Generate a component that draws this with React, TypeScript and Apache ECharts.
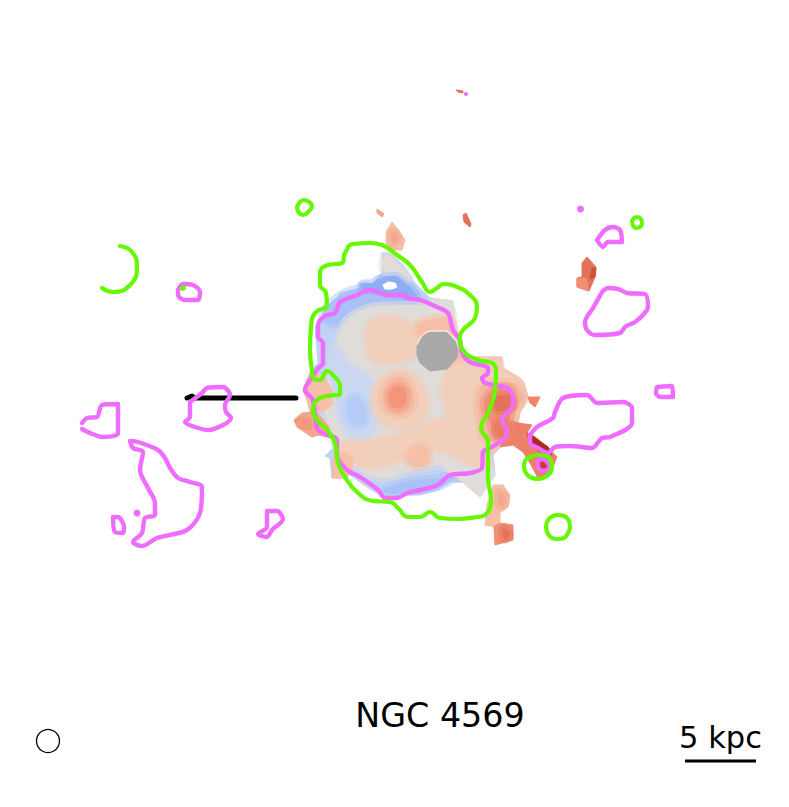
import React, { useEffect, useRef } from "react";
import * as echarts from "echarts";

type P = number[][];
const WIDTH = 789, HEIGHT = 807;
const C = {
  blueDeep: "#8fadf3", blue: "#a9c2f6", blueLight: "#c0d2f5", bluePale: "#cbd8f1", grey: "#dfdcda",
  pale: "#f2cfbb", peach: "#f6bfa8", salmon: "#f5a78e", coral: "#ef8f76", red: "#e4725a", deep: "#d2503f", dark: "#b0272b",
  mask: "#a9a9a9", white: "#ffffff",
};
const outline: P = [[382,253],[390,253],[403,265],[415,283],[430,298],[453,301],[455,323],[457,333],[460,357],[502,357],[503,368],[520,378],[524,382],[528,397],[520,412],[518,423],[505,442],[493,455],[495,475],[480,497],[463,482],[450,482],[438,490],[420,495],[407,495],[385,498],[367,487],[350,475],[343,478],[332,478],[330,458],[325,456],[333,448],[332,438],[318,435],[312,437],[297,427],[294,420],[302,413],[310,412],[307,400],[303,390],[310,372],[318,363],[315,327],[330,313],[340,293],[360,288],[360,283],[373,283],[382,273]];
const topRim: P = [[322,315],[340,295],[360,288],[372,288],[400,296],[420,298],[415,305],[380,302],[350,312],[335,325]];
const deepBlue: P = [[362,284],[373,283],[378,279],[395,276],[405,283],[414,291],[416,296],[400,296],[375,291],[362,289]];
const spurGrey: P = [[384,256],[390,256],[401,267],[410,279],[398,272],[384,271]];
const bottomBlue: P = [[383,490],[405,482],[438,478],[463,472],[468,479],[455,479],[438,487],[407,492],[390,494]];
const greyUnder: P = [[430,298],[453,301],[455,323],[457,333],[460,357],[480,400],[490,455],[495,475],[480,497],[463,482],[445,470],[430,440]];
const greyMain: P = [[345,322],[367,308],[400,305],[430,305],[450,306],[455,345],[470,400],[489,468],[480,490],[463,478],[445,466],[415,470],[380,478],[350,462],[332,440],[325,395],[335,350]];
const rightBase: P = [[460,357],[502,357],[503,368],[520,378],[524,382],[528,397],[520,412],[518,423],[505,442],[493,455],[490,440],[470,400]];
const blueBand: P = [[333,345],[350,365],[372,380],[378,410],[372,435],[355,440],[342,425],[336,400],[330,372]];
const bluePatch: P = [[347,403],[355,395],[365,405],[367,420],[358,427],[348,420]];
const paleTop: P = [[366,340],[372,322],[390,317],[412,325],[420,338],[416,355],[395,362],[375,362]];
const paleMaskTop: P = [[418,324],[436,318],[450,318],[454,335],[440,338],[420,336]];
const peachMaskRight: P = [[449,357],[458,352],[464,362],[462,376],[452,376]];
const paleRight: P = [[445,375],[462,363],[499,361],[502,370],[517,381],[521,387],[523,400],[516,412],[514,425],[503,438],[488,446],[490,466],[470,464],[445,452],[420,452],[395,462],[370,468],[350,460],[338,445],[372,440],[405,432],[430,422],[447,415],[442,395]];
const paleCenter: P = [[375,385],[390,373],[410,372],[423,385],[428,405],[420,422],[395,428],[378,418],[372,400]];
const peachCenter: P = [[383,390],[392,379],[405,378],[413,390],[414,405],[405,414],[392,414],[383,405]];
const salmonCenter: P = [[389,393],[396,386],[404,388],[407,397],[404,406],[395,408],[389,402]];
const patchLow: P = [[408,452],[418,445],[428,450],[428,463],[418,467],[408,462]];
const patchLowLeft: P = [[333,455],[345,452],[353,458],[352,472],[343,478],[332,478]];
const leftUpper: P = [[310,372],[322,375],[332,390],[332,405],[322,412],[310,412],[307,400],[303,390]];
const leftLower: P = [[302,413],[316,412],[328,425],[332,438],[318,435],[312,437],[297,427],[294,420]];
const leftLowerCore: P = [[294,420],[302,416],[311,420],[311,430],[300,429]];
const hotRing: P = [[478,392],[490,383],[513,383],[520,388],[524,400],[516,412],[514,425],[503,439],[485,440],[480,425]];
const hotMid: P = [[485,398],[497,388],[510,388],[515,400],[511,413],[507,436],[495,438],[490,422],[485,412]];
const hotCore: P = [[495,398],[504,395],[512,398],[512,408],[500,411],[495,408]];
const hotCore2: P = [[496,422],[506,420],[507,435],[497,436]];
const tailBase: P = [[506,420],[518,423],[532,425],[527,433],[535,437],[548,447],[557,457],[553,467],[548,475],[538,478],[530,463],[523,452],[513,445],[500,447],[505,438]];
const tailMid: P = [[527,433],[535,437],[552,452],[540,452],[530,445]];
const tailDark: P = [[530,435],[548,447],[552,455],[540,447],[532,442]];
const tailSpot: P = [[539,462],[544,458],[549,466],[542,470]];
const tinyWedge: P = [[528,397],[540,397],[535,407],[530,403]];
const lowerBlob: P = [[493,485],[503,485],[510,495],[508,507],[500,513],[500,523],[494,527],[485,525],[487,505],[490,495]];
const lowerRed: P = [[500,523],[513,525],[513,540],[495,545],[494,527]];
const lowerRedCore: P = [[503,529],[509,531],[509,537],[504,539]];
const lowerBlobCore: P = [[499,492],[505,496],[505,504],[500,506],[498,500]];
const topBlob: P = [[386,232],[392,222],[400,232],[405,240],[402,250],[390,250],[386,244]];
const topBlobCore: P = [[391,234],[395,232],[398,240],[393,243]];
const speckTop: P = [[456,90],[463,91],[463,93],[458,92]];
const speckLeft: P = [[377,209],[384,214],[382,217],[377,213]];
const speckRight: P = [[463,215],[466,213],[471,224],[470,227],[464,222]];
const redBlob: P = [[582,263],[587,257],[596,267],[595,277],[589,291],[577,287],[577,278],[582,277]];
const redBlobLight: P = [[577,279],[586,278],[589,291],[577,287]];
const redBlobDark: P = [[592,268],[596,268],[595,277],[590,279]];
const holeWhite: P = [[383,285],[388,282],[395,283],[397,287],[392,289],[385,289]];
const maskPoly: P = [[417,345],[422,337],[430,332],[446,332],[455,341],[458,350],[457,358],[447,369],[430,371],[420,363],[417,355]];

// [points, colour, soft edge]
const fills: [P, string, boolean][] = [
  [outline, C.blueLight, false], [topBlob, C.peach, false], [topBlobCore, C.salmon, true], [topRim, C.blue, true], [deepBlue, C.blueDeep, true], [spurGrey, C.grey, true], [holeWhite, C.white, false],
  [bottomBlue, C.blue, true], [greyUnder, C.grey, false], [greyMain, C.grey, true], [rightBase, "#f5c6b1", false], [blueBand, C.bluePale, true], [bluePatch, "#b6ccf8", true], [paleTop, C.pale, true], [paleMaskTop, C.peach, true], [peachMaskRight, C.peach, true], [paleRight, C.pale, true],
  [paleCenter, C.pale, true], [peachCenter, "#f6b8a0", true], [salmonCenter, "#f4957b", true], [patchLow, C.peach, true], [patchLowLeft, C.peach, false],
  [leftUpper, C.peach, false], [leftLower, C.salmon, false], [leftLowerCore, "#f19a80", false], [hotRing, "#f5b7a0", true], [tailBase, "#ec8068", false], [hotMid, C.coral, true], [hotCore, C.red, true],
  [hotCore2, "#e87d64", true], [tailMid, C.deep, false], [tailDark, C.dark, false], [tailSpot, "#c73a35", false], [tinyWedge, "#f0856a", false],
  [lowerBlob, C.peach, false], [lowerBlobCore, C.salmon, true], [lowerRed, C.coral, false], [lowerRedCore, C.red, true], [speckTop, C.red, false], [speckLeft, C.salmon, false], [speckRight, C.red, false],
  [redBlob, C.red, false], [redBlobLight, C.coral, false], [redBlobDark, C.deep, false], [maskPoly, C.mask, false],
];

const greenMain: P = [[312,370],[310,350],[311,327],[315,313],[327,305],[326,293],[320,285],[320,273],[328,265],[342,263],[345,253],[353,244],[370,243],[382,245],[397,255],[410,265],[422,282],[430,292],[437,288],[443,284],[457,287],[470,295],[477,307],[475,318],[463,330],[460,338],[463,350],[478,360],[492,363],[496,372],[495,390],[493,400],[488,413],[481,428],[488,442],[488,477],[491,500],[485,515],[477,517],[457,519],[440,518],[430,512],[420,517],[408,517],[398,508],[390,502],[373,501],[357,492],[345,477],[338,463],[335,443],[327,430],[317,420],[313,410],[317,400],[327,396],[340,394],[340,387],[333,375],[327,371],[320,380],[313,378],[312,370]];
const greenRing1: P = [[524,467],[525,461],[530,457],[538,455],[546,456],[551,461],[552,467],[550,473],[545,477],[538,479],[530,477],[526,473],[524,467]];
const greenRing2: P = [[546,527],[548,520],[553,516],[558,515],[564,516],[569,521],[570,527],[568,533],[564,538],[558,539],[552,538],[548,534],[546,527]];
const greenRing3: P = [[632,222],[634,218],[637,217],[640,218],[642,222],[641,226],[637,228],[634,227],[632,222]];
const greenRing4: P = [[297,207],[300,202],[304,200],[309,202],[312,206],[309,211],[303,215],[299,213],[297,207]];
const greenArc: P = [[120,246],[132,252],[137,267],[130,285],[113,292],[102,288]];

const magentaMain: P = [[318,368],[323,363],[323,343],[318,337],[318,325],[325,316],[335,313],[340,302],[357,295],[370,290],[387,295],[403,295],[407,298],[420,300],[437,307],[448,313],[453,330],[460,340],[462,353],[470,362],[488,368],[488,373],[482,378],[485,383],[507,388],[513,397],[513,405],[502,420],[507,430],[505,438],[492,447],[483,452],[482,468],[470,473],[450,475],[438,485],[420,490],[407,493],[397,498],[385,498],[378,490],[360,477],[347,470],[337,455],[337,440],[318,430],[313,400],[305,390],[315,373],[318,368]];
const magentaTail: P = [[530,435],[537,427],[553,418],[555,412],[563,398],[587,395],[597,403],[623,402],[632,408],[632,423],[610,437],[602,438],[592,448],[570,446],[555,447],[548,453],[538,448],[530,443],[530,435]];
const magentaTri: P = [[538,460],[543,459],[550,468],[542,471],[538,467],[538,460]];
const magentaBox: P = [[657,387],[672,386],[673,397],[660,397],[656,393],[657,387]];
const magentaUpper: P = [[597,240],[605,230],[613,227],[620,230],[622,242],[608,242],[603,247],[597,240]];
const magentaLarge: P = [[602,292],[608,288],[618,289],[627,293],[645,294],[648,307],[643,315],[635,322],[625,327],[620,333],[595,335],[587,330],[585,322],[593,308],[602,292]];
const magentaBar: P = [[190,402],[202,393],[207,388],[223,387],[230,395],[225,405],[226,412],[231,418],[223,425],[208,430],[195,427],[185,422],[190,417],[190,402]];
const magentaWest: P = [[82,423],[87,418],[97,417],[102,405],[118,404],[118,433],[102,437],[90,433],[82,429]];
const magentaBig: P = [[130,441],[138,442],[158,450],[165,458],[170,468],[178,478],[190,482],[202,487],[200,513],[187,530],[157,538],[142,546],[133,542],[142,533],[145,518],[155,515],[155,503],[148,488],[140,470],[143,452],[133,448],[130,441]];
const magentaLoop: P = [[113,517],[118,517],[124,527],[123,533],[115,532],[113,517]];
const magentaSouth: P = [[267,511],[277,511],[283,519],[272,530],[267,537],[258,534],[267,527],[267,511]];
const magentaNW: P = [[178,290],[183,284],[193,285],[200,292],[198,300],[185,300],[178,295],[178,290]];

const magentaDots: P = [[580.5,209,7],[137,513,7],[466,94,4]];
const greenDots: P = [[183,288,6]];

const greens: P[] = [greenMain, greenRing1, greenRing2, greenRing3, greenRing4, greenArc];
const magentas: P[] = [magentaMain, magentaTail, magentaTri, magentaBox, magentaUpper, magentaLarge, magentaBar, magentaWest, magentaBig, magentaLoop, magentaSouth, magentaNW];
const blackBar: P = [[187,398],[192,396],[195,398],[296,398]];
const scaleBar: P = [[685,761],[756,761]];
const maskEdge: P = [[417,345],[422,336],[430,331],[446,331],[455,340]];

function line(data: P, color: string, width: number, smooth: number | boolean, z: number, round = true) {
  return {
    type: "line", data, smooth, showSymbol: false, symbol: "none", silent: true, z, clip: false,
    lineStyle: { color, width, cap: round ? "round" : "butt", join: "round" },
  };
}

function dots(data: P, color: string, z: number) {
  return {
    type: "scatter", data, silent: true, z, clip: false, symbol: "circle",
    symbolSize: (v: number[]) => v[2], itemStyle: { color, opacity: 1 },
  };
}

function soften(hex: string) {
  const n = parseInt(hex.slice(1), 16);
  return `rgba(${n >> 16},${(n >> 8) & 255},${n & 255},0.45)`;
}

export default function App() {
  const ref = useRef<HTMLDivElement>(null);
  useEffect(() => {
    const chart = echarts.init(ref.current!, undefined, { renderer: "svg" });
    chart.setOption({
      animation: false,
      backgroundColor: "#ffffff",
      grid: { left: 0, right: 0, top: 0, bottom: 0 },
      xAxis: { type: "value", min: 0, max: WIDTH, show: false },
      yAxis: { type: "value", min: 0, max: HEIGHT, inverse: true, show: false },
      graphic: [
        { type: "text", x: 440, y: 715, style: { text: "NGC 4569", font: "33.3px 'DejaVu Sans'", fill: "#000", textAlign: "center", textVerticalAlign: "middle" } },
        { type: "text", x: 720.5, y: 737, style: { text: "5 kpc", font: "30.5px 'DejaVu Sans'", fill: "#000", textAlign: "center", textVerticalAlign: "middle" } },
        { type: "circle", shape: { cx: 48, cy: 741, r: 11.5 }, style: { fill: "none", stroke: "#000", lineWidth: 1.3 } },
      ],
      series: [
        {
          type: "custom", coordinateSystem: "cartesian2d", silent: true, z: 1, clip: false,
          data: fills.map((_, i) => [i]),
          encode: { x: 0, y: 0 },
          renderItem: (_p: any, api: any) => {
            const [pts, color, soft] = fills[api.value(0)];
            return {
              type: "polygon",
              shape: { points: pts.map((q) => api.coord(q)), smooth: soft ? 0.4 : 0 },
              style: soft ? { fill: color, stroke: soften(color), lineWidth: 8 } : { fill: color, stroke: color, lineWidth: 1 },
            };
          },
        },
        line(maskEdge, "#ffffff", 1, 0.3, 2, false),
        line(blackBar, "#000000", 5, false, 3),
        line(scaleBar, "#000000", 3, false, 3, false),
        ...magentas.map((d) => line(d, "#ee6cff", 4.4, 0.3, 4)),
        dots(magentaDots, "#ee6cff", 4),
        ...greens.map((d) => line(d, "#66f800", 4.2, 0.5, 5)),
        dots(greenDots, "#66f800", 5),
      ],
    });
    return () => chart.dispose();
  }, []);
  return <div ref={ref} style={{ position: "absolute", left: 0, top: 0, width: WIDTH, height: HEIGHT }} />;
}
